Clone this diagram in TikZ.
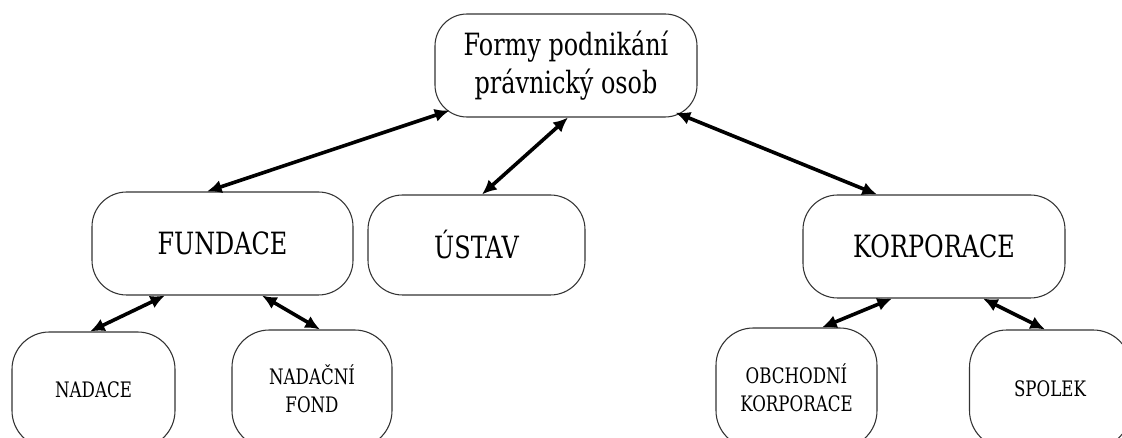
\documentclass[tikz,border=0pt]{standalone}
\usepackage{fontspec}
\setmainfont{DejaVu Serif}
\newfontfamily\bigf[FakeStretch=0.78]{DejaVu Serif}
\newfontfamily\smallf[FakeStretch=0.78]{DejaVu Serif}
\usetikzlibrary{arrows.meta}
\begin{document}
\begin{tikzpicture}[x=0.75pt,y=-0.75pt,
  box/.style={draw=black!80,line width=0.8pt,rounded corners=24pt,align=center,inner sep=0pt},
  bigbox/.style={box,font=\bigf\fontsize{23}{28}\selectfont},
  smallbox/.style={box,rounded corners=28pt,font=\smallf\fontsize{16}{21}\selectfont},
  link/.style={line width=2.7pt,{Latex[length=11pt,width=10pt]}-{Latex[length=11pt,width=10pt]}}]
\useasboundingbox (0,0) rectangle (1122,438);
\begin{scope}
\clip (0,0) rectangle (1122,438);
\node[bigbox,minimum width=196.5pt,minimum height=77.25pt] (top) at (566,65.5) {Formy podnikání\\právnický osob};
\node[bigbox,minimum width=195.75pt,minimum height=77.25pt,rounded corners=26pt] (fund) at (222.5,243.5) {FUNDACE};
\node[bigbox,minimum width=162.75pt,minimum height=75pt,rounded corners=26pt] (ustav) at (476.5,245) {ÚSTAV};
\node[bigbox,minimum width=196.5pt,minimum height=77.25pt,rounded corners=26pt] (korp) at (934,246.5) {KORPORACE};
\node[smallbox,minimum width=122.25pt,minimum height=87pt] (nadace) at (93.5,390) {NADACE};
\node[smallbox,minimum width=120pt,minimum height=88.5pt] (fond) at (312,389) {NADAČNÍ\\FOND};
\node[smallbox,minimum width=120.75pt,minimum height=90pt] (obch) at (796.5,388) {OBCHODNÍ\\KORPORACE};
\node[smallbox,minimum width=120.75pt,minimum height=88.5pt] (spolek) at (1050,389) {SPOLEK};
\end{scope}
\draw[link] ([shift={(15,-7)}]top.south west) -- ([shift={(-15.5,0)}]fund.north);
\draw[link] ([shift={(2,0)}]top.south) -- ([shift={(5.5,0)}]ustav.north);
\draw[link] ([shift={(-22,-5)}]top.south east) -- ([shift={(-57,0)}]korp.north);
\draw[link] ([shift={(-57.5,0)}]fund.south) -- ([shift={(-3.5,0)}]nadace.north);
\draw[link] ([shift={(39.5,0)}]fund.south) -- ([shift={(8,0)}]fond.north);
\draw[link] ([shift={(-42,0)}]korp.south) -- ([shift={(25.5,0)}]obch.north);
\draw[link] ([shift={(49,0)}]korp.south) -- ([shift={(-5,0)}]spolek.north);
\end{tikzpicture}
\end{document}
